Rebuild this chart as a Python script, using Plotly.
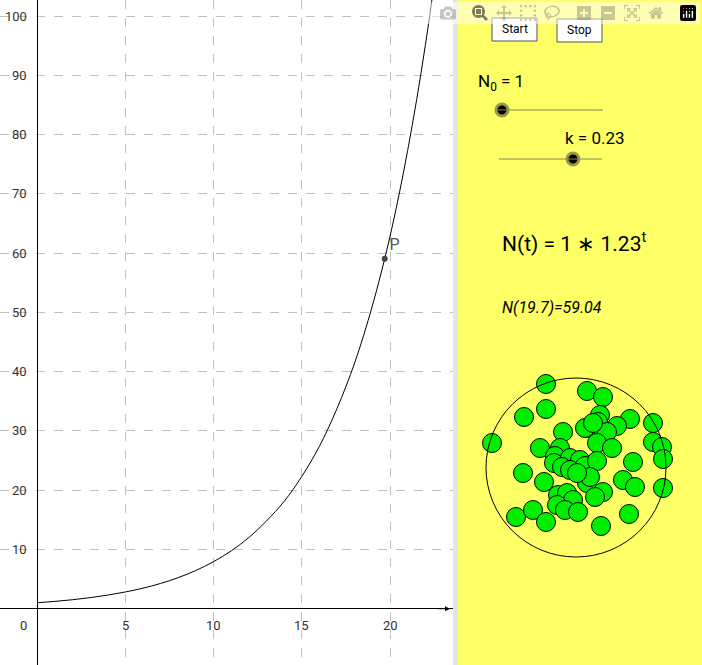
import plotly.graph_objects as go

# curve N(t) at whole t
t_vals = list(range(0, 25))
n_vals = [1, 1.23, 1.51, 1.86, 2.29, 2.82, 3.46, 4.26, 5.24, 6.45, 7.93, 9.75, 12.0,
          14.8, 18.1, 22.3, 27.4, 33.8, 41.5, 51.1, 62.8, 77.3, 95.0, 117, 144]
p_t, p_n = 19.7, 59.04

# dots in the right panel (pixel coords of the panel)
dot_x = [546, 587, 603, 546, 524, 630, 653, 600, 598, 590, 617, 607, 563, 492, 540, 597, 612,
         653, 662, 663, 560, 555, 554, 570, 580, 562, 570, 585, 597, 633, 523, 544, 623, 635,
         663, 587, 603, 595, 558, 567, 573, 557, 565, 578, 516, 533, 546, 629, 601, 585, 593,
         590, 577]
dot_y = [384, 391, 397, 409, 417, 419, 423, 415, 422, 428, 426, 432, 432, 443, 448, 443, 448,
         442, 447, 459, 448, 456, 463, 458, 460, 467, 470, 466, 461, 462, 473, 482, 480, 487,
         488, 483, 492, 497, 495, 493, 500, 505, 510, 512, 517, 510, 522, 514, 526, 428, 423,
         477, 473]

W, H = 702, 665
fig = go.Figure()
fig.add_trace(go.Scatter(x=t_vals, y=n_vals, mode="lines", line=dict(color="black", width=1, shape="spline")))
fig.add_trace(go.Scatter(x=[p_t], y=[p_n], mode="markers+text", text=["P"], textposition="top right",
                         textfont=dict(size=16, color="#555"),
                         marker=dict(size=6, color="#444")))

# right panel
fig.add_shape(type="rect", xref="paper", yref="paper", x0=453 / W, x1=458 / W, y0=0, y1=1,
              fillcolor="#e4e4e4", line_width=0, layer="below")
fig.add_shape(type="rect", xref="paper", yref="paper", x0=458 / W, x1=1, y0=0, y1=1,
              fillcolor="#ffff66", line_width=0, layer="below")
fig.add_shape(type="circle", xref="x2", yref="y2", x0=486, x1=666, y0=378, y1=557,
              line=dict(color="black", width=1))
fig.add_trace(go.Scatter(x=dot_x, y=dot_y, xaxis="x2", yaxis="y2", mode="markers",
                         marker=dict(size=19, color="#00ee00", line=dict(color="black", width=1))))

# buttons
for x0, x1, y0, lab in [(492, 537, 18, "Start"), (557, 602, 19, "Stop")]:
    fig.add_shape(type="rect", xref="x2", yref="y2", x0=x0, x1=x1, y0=y0, y1=y0 + 23,
                  fillcolor="white", line=dict(color="#555", width=1))
    fig.add_annotation(x=(x0 + x1) / 2, y=y0 + 11, xref="x2", yref="y2", text=lab,
                       showarrow=False, font=dict(size=12, color="black"))

# sliders
for x0, x1, y, kx in [(496, 603, 110, 502), (499, 602, 159, 573)]:
    fig.add_shape(type="line", xref="x2", yref="y2", x0=x0, x1=x1, y0=y, y1=y,
                  line=dict(color="#888855", width=1))
    fig.add_trace(go.Scatter(x=[kx], y=[y], xaxis="x2", yaxis="y2", mode="markers",
                             marker=dict(size=12, color="black", line=dict(color="#999944", width=3))))

txt = [(476, 82, "N<sub>0</sub> = 1", 17, "left"), (563, 138, "k = 0.23", 17, "left"),
       (500, 242, "N(t) = 1 ∗ 1.23<sup>t</sup>", 21, "left"),
       (500, 307, "<i>N(19.7)=59.04</i>", 16, "left")]
for x, y, s, fs, al in txt:
    fig.add_annotation(x=x, y=y, xref="x2", yref="y2", text=s, showarrow=False, xanchor=al,
                       font=dict(size=fs, color="black"))

# axis tick labels (GeoGebra style, next to the axes)
for v in [5, 10, 15, 20]:
    fig.add_annotation(x=v, y=-1.3, text=str(v), showarrow=False, yanchor="top",
                       font=dict(size=13, color="#333"))
for v in range(10, 101, 10):
    fig.add_annotation(x=-0.45, y=v, text=str(v), showarrow=False, xanchor="right",
                       font=dict(size=13, color="#333"))
fig.add_annotation(x=-0.45, y=-1.3, text="0", showarrow=False, xanchor="right", yanchor="top",
                   font=dict(size=13, color="#333"))
fig.add_annotation(x=23.4, y=0, ax=22.6, ay=0, axref="x", ayref="y", showarrow=True,
                   arrowhead=2, arrowsize=1, arrowwidth=1, arrowcolor="black", text="")

grid = dict(showgrid=True, gridcolor="#c0c0c0", griddash="dash", gridwidth=1, showticklabels=False,
            zeroline=True, zerolinecolor="black", zerolinewidth=1, ticks="")
fig.update_layout(
    width=W, height=H, margin=dict(l=0, r=0, t=0, b=0), showlegend=False,
    font=dict(family="Roboto"),
    plot_bgcolor="white", paper_bgcolor="white",
    xaxis=dict(domain=[0, 453 / W], range=[-2.1, 23.57], dtick=5, **grid),
    yaxis=dict(range=[-9.5, 102.7], dtick=10, **grid),
    xaxis2=dict(domain=[458 / W, 1], range=[458, 702], visible=False, anchor="y2"),
    yaxis2=dict(domain=[0, 1], range=[665, 0], visible=False, anchor="x2"),
)
fig.write_html("out.html", post_script="document.body.style.margin='0';document.body.style.overflow='hidden';")
